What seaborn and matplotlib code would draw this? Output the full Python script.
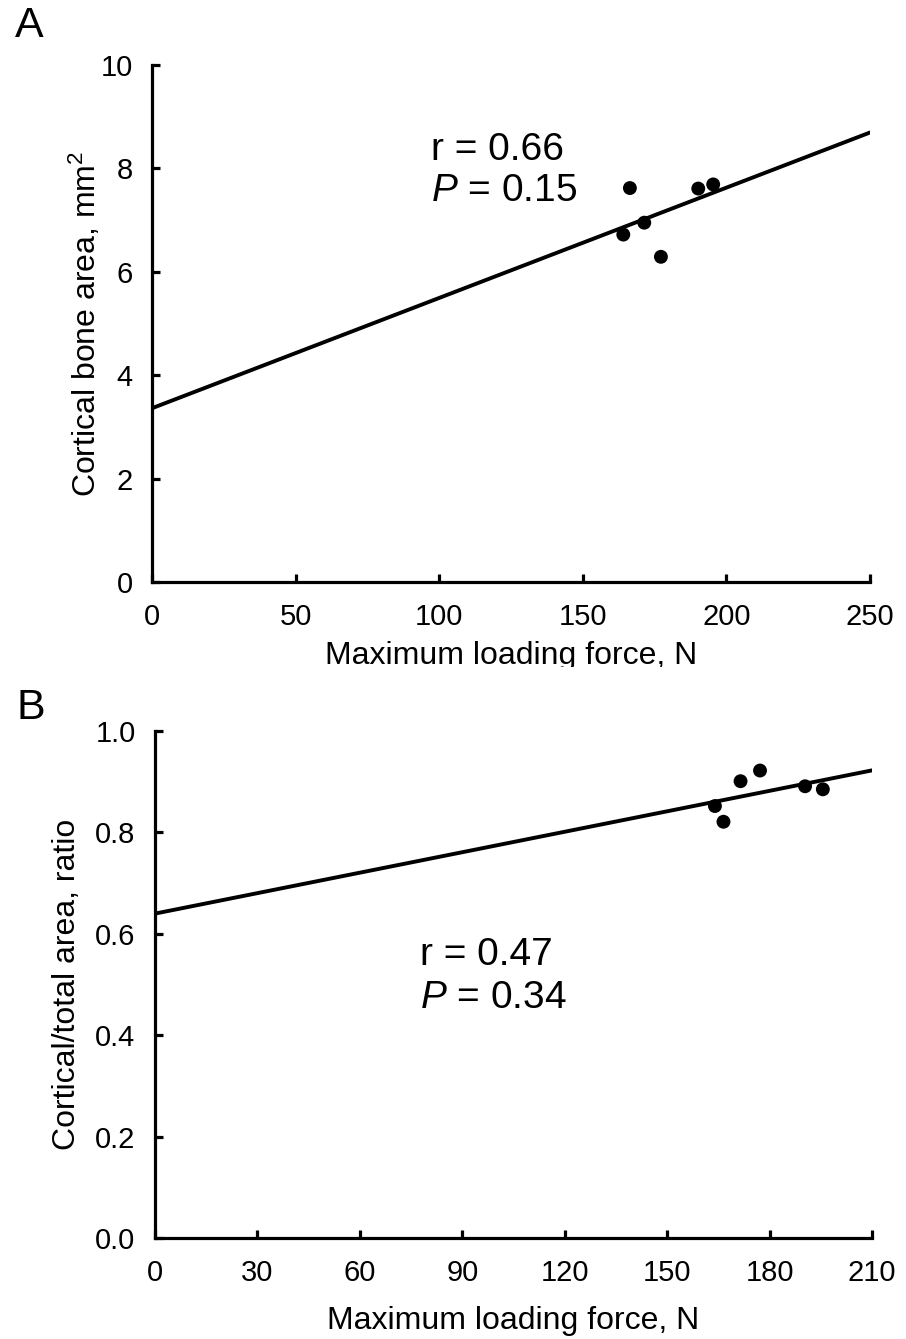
import numpy as np
import pandas as pd
import matplotlib
matplotlib.use("Agg")
import matplotlib.pyplot as plt
from matplotlib.transforms import Bbox
import seaborn as sns

# Maximum loading force (N) per specimen
force_a = [164.1, 166.4, 171.4, 177.2, 190.2, 195.4]
cortical_area = [6.72, 7.62, 6.95, 6.29, 7.61, 7.69]

force_b = [164.0, 166.5, 171.5, 177.2, 190.4, 195.6]
area_ratio = [0.852, 0.821, 0.901, 0.922, 0.891, 0.885]

xticks_a = [0, 50, 100, 150, 200, 250]
yticks_a = [0, 2, 4, 6, 8, 10]
xticks_b = [0, 30, 60, 90, 120, 150, 180, 210]
yticks_b = [0.0, 0.2, 0.4, 0.6, 0.8, 1.0]

stats_a = ("r = 0.66", "$P$ = 0.15")
stats_b = ("r = 0.47", "$P$ = 0.34")

sns.set_theme(style="white")
plt.rcParams["font.family"] = ["Liberation Sans", "DejaVu Sans"]
plt.rcParams["mathtext.fontset"] = "custom"
plt.rcParams["mathtext.rm"] = "Liberation Sans"
plt.rcParams["mathtext.it"] = "Liberation Sans:italic"
plt.rcParams["text.color"] = "black"
plt.rcParams["axes.labelcolor"] = "black"

W, H = 906, 1339
fig = plt.figure(figsize=(W / 100, H / 100), dpi=100)
ax_a = fig.add_axes([152 / W, 1 - 582 / H, 718 / W, 517 / H])
ax_b = fig.add_axes([155 / W, 1 - 1238 / H, 717 / W, 507 / H])

df_a = pd.DataFrame({"force": force_a, "area": cortical_area})
df_b = pd.DataFrame({"force": force_b, "ratio": area_ratio})


def style_axes(ax, xt, yt, ylabel, yfmt, ylab_x, xlab_y):
    ax.set_xticks(xt)
    ax.set_yticks(yt)
    ax.set_yticklabels([yfmt.format(v) for v in yt])
    for s in ["top", "right"]:
        ax.spines[s].set_visible(False)
    for s in ["left", "bottom"]:
        ax.spines[s].set_linewidth(2.3)
        ax.spines[s].set_color("black")
    ax.tick_params(axis="x", direction="in", length=6, width=2.3, colors="black",
                   labelsize=21, pad=15, bottom=True)
    ax.tick_params(axis="y", direction="in", length=6, width=2.3, colors="black",
                   labelsize=21, pad=14, left=True)
    ax.set_xlabel("Maximum loading force, N", fontsize=23, va="top")
    ax.set_ylabel(ylabel, fontsize=23, va="center")
    ax.xaxis.set_label_coords(0.5, xlab_y)
    ax.yaxis.set_label_coords(ylab_x, 0.5)
    ax.set_facecolor("white")


for ax, df, ycol, xt, yt in [
    (ax_a, df_a, "area", xticks_a, yticks_a),
    (ax_b, df_b, "ratio", xticks_b, yticks_b),
]:
    ax.set_xlim(xt[0], xt[-1])
    ax.set_ylim(yt[0], yt[-1])
    sns.regplot(data=df, x="force", y=ycol, ax=ax, ci=None, truncate=False,
                scatter_kws=dict(s=100, color="black", alpha=1, edgecolor="none",
                                 zorder=3, clip_on=False),
                line_kws=dict(color="black", lw=2.8, zorder=2))
    ax.set_xlim(xt[0], xt[-1])
    ax.set_ylim(yt[0], yt[-1])

style_axes(ax_a, xticks_a, yticks_a, "Cortical bone area, mm$^2$", "{:g}",
           (85 - 152) / 718, (582 - 641) / 517)
style_axes(ax_b, xticks_b, yticks_b, "Cortical/total area, ratio", "{:.1f}",
           (67 - 155) / 717, (1238 - 1306) / 507)

# The top panel's axis title is cut off where the lower panel begins
lbl_a = ax_a.xaxis.label
lbl_a.set_clip_box(Bbox.from_extents(0, H - 667, W, H))
lbl_a.set_clip_on(True)

ax_a.text(0.389, (582 - 150) / 517, stats_a[0], transform=ax_a.transAxes,
          fontsize=28, va="center")
ax_a.text(0.389, (582 - 191) / 517, stats_a[1], transform=ax_a.transAxes,
          fontsize=28, va="center")
ax_b.text((420 - 155) / 717, (1238 - 955) / 507, stats_b[0], transform=ax_b.transAxes,
          fontsize=28, va="center")
ax_b.text((420 - 155) / 717, (1238 - 998) / 507, stats_b[1], transform=ax_b.transAxes,
          fontsize=28, va="center")

fig.text(15 / W, 1 - 26 / H, "A", fontsize=31, va="center", ha="left")
fig.text(17 / W, 1 - 708 / H, "B", fontsize=31, va="center", ha="left")

fig.savefig("out.png", dpi=100, facecolor="white")
